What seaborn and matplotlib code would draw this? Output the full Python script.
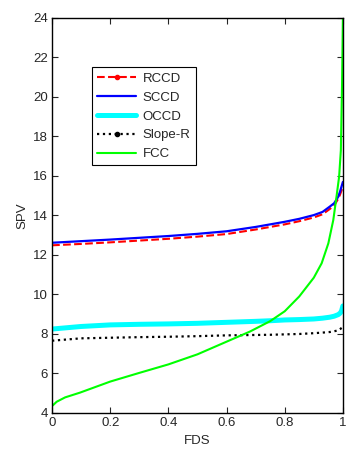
import matplotlib
matplotlib.use('Agg')
import matplotlib.pyplot as plt
from matplotlib.lines import Line2D
import pandas as pd
import seaborn as sns

# FDS grid shared by the CCD designs
fds = [0, 0.1, 0.2, 0.3, 0.4, 0.5, 0.6, 0.7, 0.75, 0.8, 0.85, 0.9,
       0.93, 0.955, 0.97, 0.984, 0.99, 0.995, 1.0]
sccd = [12.62, 12.7, 12.78, 12.87, 12.96, 13.07, 13.2, 13.42, 13.55, 13.68,
        13.83, 14.02, 14.18, 14.45, 14.62, 14.95, 15.2, 15.45, 15.7]
rccd = [12.49, 12.56, 12.64, 12.73, 12.82, 12.93, 13.06, 13.29, 13.42, 13.55,
        13.71, 13.9, 14.06, 14.33, 14.5, 14.85, 15.05, 15.25, 15.5]
occd = [8.25, 8.38, 8.46, 8.49, 8.51, 8.54, 8.59, 8.64, 8.67, 8.71,
        8.73, 8.76, 8.8, 8.85, 8.9, 8.98, 9.05, 9.15, 9.42]
slope_r = [7.66, 7.78, 7.81, 7.84, 7.86, 7.89, 7.93, 7.95, 7.96, 7.98,
           8.0, 8.04, 8.07, 8.1, 8.14, 8.18, 8.24, 8.3, 8.35]

fds_fcc = [0, 0.016, 0.045, 0.096, 0.2, 0.3, 0.4, 0.5, 0.6, 0.68, 0.75,
           0.8, 0.85, 0.9, 0.927, 0.95, 0.967, 0.978, 0.987, 0.993, 0.997, 1.0]
fcc = [4.35, 4.57, 4.79, 5.03, 5.59, 6.03, 6.46, 6.97, 7.61, 8.12, 8.65,
       9.15, 9.9, 10.85, 11.58, 12.59, 13.77, 14.95, 15.96, 17.3, 20.5, 24.0]

sns.set_style('ticks')
plt.rcParams['font.family'] = ['Liberation Sans', 'DejaVu Sans']
plt.rcParams['font.size'] = 9.5

fig = plt.figure(figsize=(3.64, 4.58), dpi=100)
ax = fig.add_axes([0.143, 0.0983, 0.799, 0.8624])

styles = [
    ('RCCD', fds, rccd, dict(color='red', linestyle='--', linewidth=1.5)),
    ('SCCD', fds, sccd, dict(color='#0000ff', linestyle='-', linewidth=1.6)),
    ('OCCD', fds, occd, dict(color='cyan', linestyle='-', linewidth=3.6)),
    ('Slope-R', fds, slope_r, dict(color='black', linestyle=':', linewidth=1.6)),
    ('FCC', fds_fcc, fcc, dict(color='#00ff00', linestyle='-', linewidth=1.5)),
]
handles = []
for name, x, y, kw in styles:
    df = pd.DataFrame({'FDS': x, 'SPV': y})
    sns.lineplot(data=df, x='FDS', y='SPV', ax=ax, **kw)
    marker = '.' if name in ('RCCD', 'Slope-R') else None
    handles.append(Line2D([], [], marker=marker, markersize=6, label=name, **kw))

ax.set_xlim(0, 1)
ax.set_ylim(4, 24)
ax.set_xticks([0, 0.2, 0.4, 0.6, 0.8, 1])
ax.set_xticklabels(['0', '0.2', '0.4', '0.6', '0.8', '1'])
ax.set_yticks(range(4, 25, 2))
ax.tick_params(direction='in', top=True, right=True, length=4, width=0.8,
               labelsize=9.5, pad=3)
for s in ax.spines.values():
    s.set_linewidth(1.0)
    s.set_color('black')
ax.set_xlabel('FDS', fontsize=9.5, labelpad=4)
ax.set_ylabel('SPV', fontsize=9.5, labelpad=3)

leg = ax.legend(handles=handles, loc='upper left',
                bbox_to_anchor=(0.136, 0.875), borderaxespad=0,
                fancybox=False, framealpha=1, edgecolor='black',
                handlelength=3.0, labelspacing=0.5, fontsize=9.5,
                borderpad=0.4, handletextpad=0.47)
leg.get_frame().set_linewidth(0.8)

fig.savefig('out.png', dpi=100)
